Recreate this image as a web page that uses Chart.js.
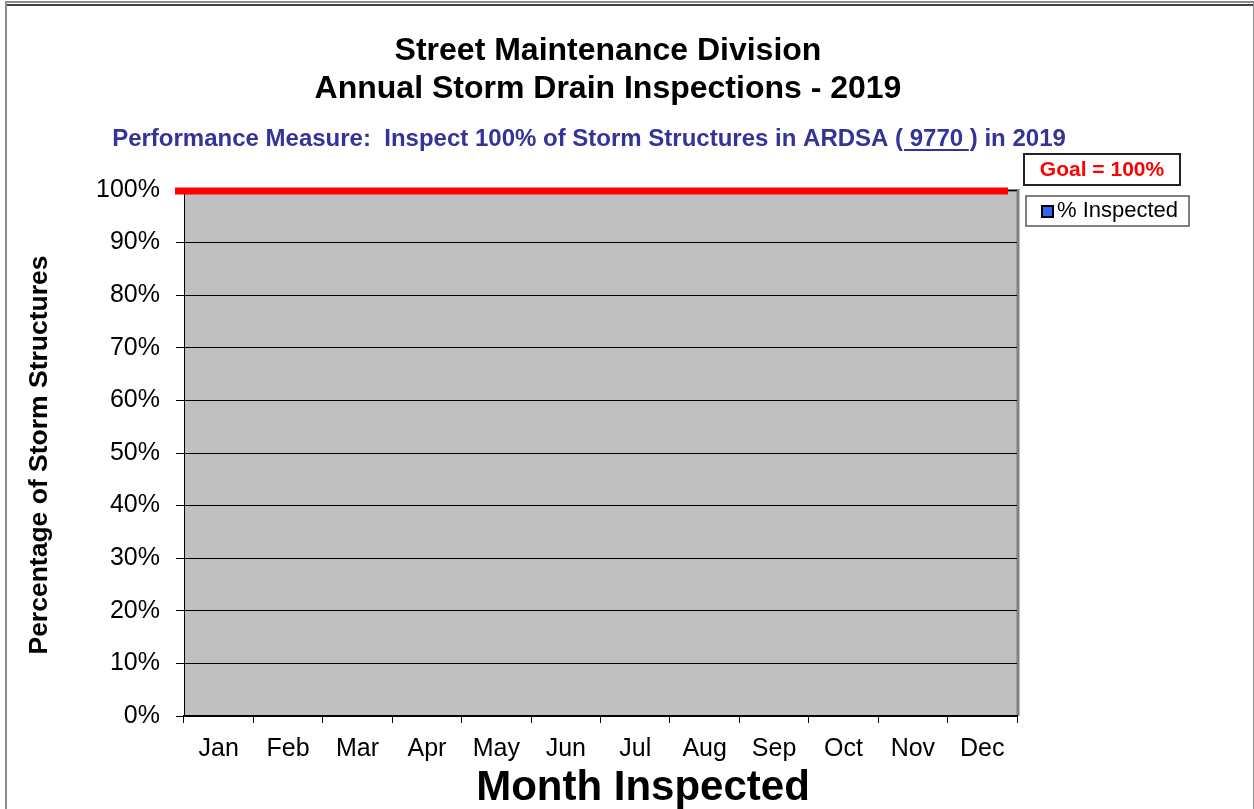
<!DOCTYPE html>
<html>
<head>
<meta charset="utf-8">
<script src="https://cdn.jsdelivr.net/npm/chart.js@4/dist/chart.umd.min.js"></script>
<style>
  body { margin: 0; background: #fff; }
  #wrap { position: relative; width: 1254px; height: 809px; overflow: hidden; }
  #frame { position: absolute; left: 5px; top: 1px; width: 1246px; height: 840px; border: 2px solid #8c8c8c; border-bottom: none; }
  #frameTop { position: absolute; left: 7px; top: 4px; width: 1246px; height: 2px; background: #404040; }
</style>
</head>
<body>
<div id="wrap">
  <canvas id="chart" width="1254" height="809"></canvas>
  <div id="frame"></div>
  <div id="frameTop"></div>
</div>
<script>
// Chart text
const titleLines = ["Street Maintenance Division", "Annual Storm Drain Inspections - 2019"];
const subtitleParts = ["Performance Measure:  Inspect 100% of Storm Structures in ARDSA (", " 9770 ", ") in 2019"];
const yTitle = "Percentage of Storm Structures";
const xTitle = "Month Inspected";
// Categories
const months = ["Jan", "Feb", "Mar", "Apr", "May", "Jun", "Jul", "Aug", "Sep", "Oct", "Nov", "Dec"];
// Series values (nothing inspected yet)
const inspectedValues = [null, null, null, null, null, null, null, null, null, null, null, null];
const goalValues = [100, 100, 100, 100, 100, 100, 100, 100, 100, 100, 100, 100];
// Y tick labels every 10%
const yTickStep = 10;

const FONT = "'Liberation Sans', Arial, sans-serif";

// Grey plot area with a darker edge, like the old Excel charts
const plotBackground = {
  id: "plotBackground",
  beforeDraw(chart) {
    const { ctx, chartArea: a } = chart;
    ctx.save();
    ctx.fillStyle = "#c0c0c0";
    ctx.fillRect(a.left, a.top, a.right - a.left, a.bottom - a.top);
    ctx.strokeStyle = "#808080";
    ctx.lineWidth = 3;
    ctx.beginPath();
    ctx.moveTo(a.left, a.top + 0.5);
    ctx.lineTo(a.right + 1, a.top + 0.5);
    ctx.lineTo(a.right + 1, a.bottom);
    ctx.stroke();
    ctx.restore();
  },
};

// Goal line sits a little left of the plot in the original
const goalShift = {
  id: "goalShift",
  beforeDatasetDraw(chart, args) {
    if (args.index === 1) {
      chart.ctx.save();
      chart.ctx.translate(-9, 1);
    }
  },
  afterDatasetDraw(chart, args) {
    if (args.index === 1) chart.ctx.restore();
  },
};

// Titles, axis titles and the two boxed legend entries
const headings = {
  id: "headings",
  afterDraw(chart) {
    const ctx = chart.ctx;
    ctx.save();
    ctx.textBaseline = "middle";
    ctx.textAlign = "center";
    ctx.fillStyle = "#000";
    ctx.font = "bold 32px " + FONT;
    ctx.fillText(titleLines[0], 608, 51);
    ctx.fillText(titleLines[1], 608, 89);

    // subtitle with underlined number
    ctx.font = "bold 24px " + FONT;
    ctx.fillStyle = "#333399";
    ctx.strokeStyle = "#333399";
    ctx.textAlign = "left";
    const widths = subtitleParts.map((p) => ctx.measureText(p).width);
    let x = 589 - widths.reduce((s, w) => s + w, 0) / 2;
    subtitleParts.forEach((p, i) => {
      ctx.fillText(p, x, 139);
      if (i === 1) {
        ctx.lineWidth = 2;
        ctx.beginPath();
        ctx.moveTo(x + 1, 150);
        ctx.lineTo(x + widths[i] - 1, 150);
        ctx.stroke();
      }
      x += widths[i];
    });

    // axis titles
    ctx.fillStyle = "#000";
    ctx.textAlign = "center";
    ctx.font = "bold 42px " + FONT;
    ctx.fillText(xTitle, 643, 788);
    ctx.save();
    ctx.translate(40, 455);
    ctx.rotate(-Math.PI / 2);
    ctx.font = "bold 26.5px " + FONT;
    ctx.fillText(yTitle, 0, 0);
    ctx.restore();

    // legend: goal box
    const goal = chart.data.datasets[1];
    ctx.lineWidth = 2;
    ctx.strokeStyle = "#222";
    ctx.fillStyle = "#fff";
    ctx.fillRect(1024, 154, 156, 31);
    ctx.strokeRect(1024, 154, 156, 31);
    ctx.fillStyle = goal.borderColor;
    ctx.font = "bold 21px " + FONT;
    ctx.fillText(goal.label, 1102, 170);

    // legend: inspected box
    const insp = chart.data.datasets[0];
    ctx.lineWidth = 1.5;
    ctx.strokeStyle = "#555";
    ctx.fillStyle = "#fff";
    ctx.fillRect(1026, 196, 163, 30);
    ctx.strokeRect(1026, 196, 163, 30);
    ctx.fillStyle = insp.backgroundColor;
    ctx.fillRect(1042, 206, 11, 11);
    ctx.lineWidth = 2;
    ctx.strokeStyle = "#000";
    ctx.strokeRect(1042, 206, 11, 11);
    ctx.fillStyle = "#000";
    ctx.textAlign = "left";
    ctx.font = "22px " + FONT;
    ctx.fillText(insp.label, 1057, 211);
    ctx.restore();
  },
};

new Chart(document.getElementById("chart"), {
  type: "bar",
  plugins: [plotBackground, goalShift, headings],
  data: {
    labels: months,
    datasets: [
      {
        label: "% Inspected",
        data: inspectedValues,
        backgroundColor: "#3366ff",
        borderColor: "#000",
        borderWidth: 1,
      },
      {
        type: "line",
        label: "Goal = 100%",
        data: goalValues,
        xAxisID: "x2",
        borderColor: "#ff0000",
        borderWidth: 7,
        pointRadius: 0,
        clip: false,
      },
    ],
  },
  options: {
    responsive: false,
    animation: false,
    devicePixelRatio: 1,
    layout: { padding: { top: 190, right: 237, left: 0, bottom: 0 } },
    plugins: {
      legend: { display: false },
      title: { display: false },
      tooltip: { enabled: false },
    },
    scales: {
      x: {
        offset: true,
        grid: { offset: true, drawOnChartArea: false, drawTicks: true, tickLength: 7, color: "#000" },
        border: { color: "#000", width: 2 },
        ticks: { color: "#000", font: { family: FONT, size: 25 }, padding: 11, maxRotation: 0, autoSkip: false },
        afterFit: (s) => { s.height = 93; },
      },
      x2: { type: "category", labels: months, offset: false, display: false },
      y: {
        min: 0,
        max: 100,
        ticks: {
          stepSize: yTickStep,
          color: "#000",
          padding: 16,
          font: { family: FONT, size: 25 },
          callback: (v) => v + "%",
        },
        grid: { color: "#000", lineWidth: 1, tickLength: 8 },
        border: { color: "#000", width: 1 },
        afterFit: (s) => { s.width = 184; },
      },
    },
  },
});
</script>
</body>
</html>
